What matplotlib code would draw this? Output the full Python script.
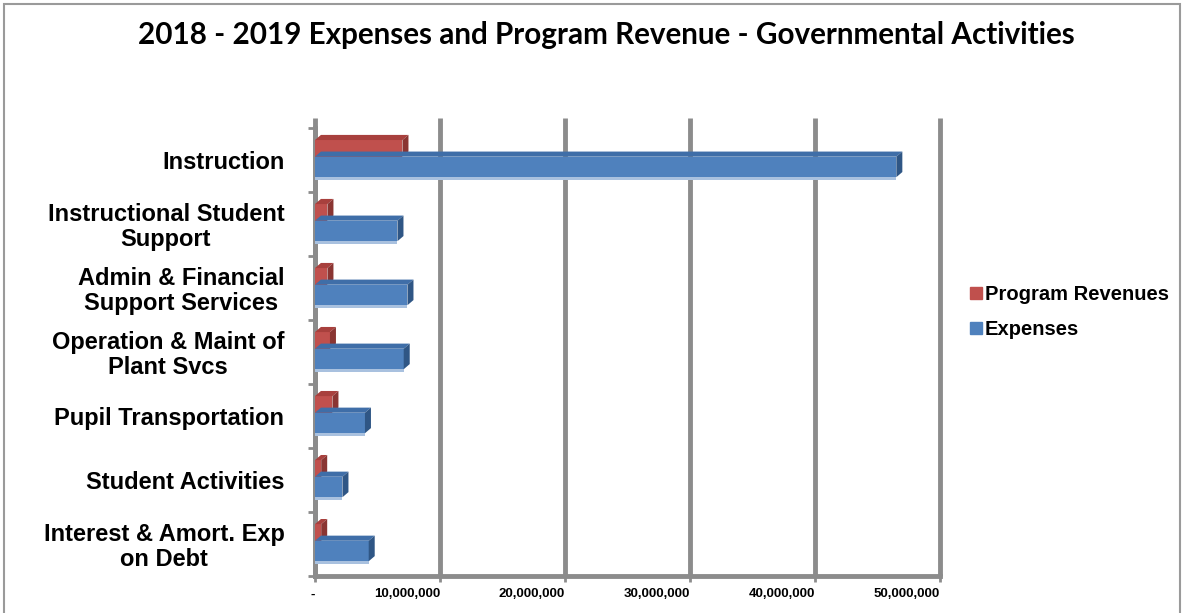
import matplotlib.pyplot as plt
from matplotlib.patches import Polygon, Rectangle
from matplotlib.lines import Line2D
import numpy as np

categorias = ["Instruction", "Instructional Student\nSupport", "Admin & Financial\nSupport Services",
              "Operation & Maint of\nPlant Svcs", "Pupil Transportation", "Student Activities",
              "Interest & Amort. Exp\non Debt"]
gastos = [46.5e6, 6.6e6, 7.4e6, 7.1e6, 4.0e6, 2.2e6, 4.3e6]
ingresos = [7.0e6, 1.0e6, 1.0e6, 1.2e6, 1.4e6, 0.5e6, 0.5e6]
xticks = [0, 10e6, 20e6, 30e6, 40e6, 50e6]
xlabels = ["-", "10,000,000", "20,000,000", "30,000,000", "40,000,000", "50,000,000"]

azul = "#4f81bd"; azul_top = "#3f6ea8"; azul_lado = "#2f5685"; azul_claro = "#a9c1df"
rojo = "#c0504d"; rojo_top = "#a8403d"; rojo_lado = "#8a3532"
gris = "#8c8c8c"

fig = plt.figure(figsize=(11.84, 6.13), dpi=100)
ax = fig.add_axes([0.266, 0.0604, 0.528, 0.731])

dx = 0.48e6   # profundidad falsa 3D
dy = 0.08

def barra3d(y, w, h, c_front, c_top, c_side, z):
    ax.barh(y, w, height=h, color=c_front, zorder=z, edgecolor="none")
    t = y + h / 2
    b = y - h / 2
    ax.add_patch(Polygon([(0, t), (w, t), (w + dx, t + dy), (dx, t + dy)], closed=True,
                         facecolor=c_top, edgecolor="none", zorder=z))
    ax.add_patch(Polygon([(w, b), (w + dx, b + dy), (w + dx, t + dy), (w, t)], closed=True,
                         facecolor=c_side, edgecolor="none", zorder=z))

n = len(categorias)
ypos = np.arange(n)[::-1]

for i in range(n):
    c = ypos[i]
    barra3d(c + 0.18, ingresos[i], 0.26, rojo, rojo_top, rojo_lado, 3 + i * 0.01)
    # borde claro debajo de la barra azul
    ax.barh(c - 0.29, gastos[i], height=0.05, color=azul_claro, zorder=3.5, edgecolor="none")
    barra3d(c - 0.11, gastos[i], 0.32, azul, azul_top, azul_lado, 4 + i * 0.01)

for xv in xticks:
    ax.plot([xv, xv], [-0.5, n - 0.5 + 0.15], color=gris, lw=3.5, zorder=1, clip_on=False,
            solid_capstyle="butt")

ax.set_xlim(0, 50e6)
ax.set_ylim(-0.5, n - 0.5)

ax.set_xticks(xticks)
ax.set_xticklabels(xlabels, fontsize=9.5, fontweight="bold", family="Liberation Sans", ha="right")
ax.set_yticks(ypos)
ax.set_yticklabels(categorias, fontsize=17, fontweight="bold", family="Liberation Sans")
for t in ax.get_yticklabels():
    t.set_multialignment("center")
    t.set_linespacing(1.1)
ax.tick_params(axis="y", which="major", length=0, pad=22)
ax.set_yticks(np.arange(n + 1) - 0.5, minor=True)
ax.tick_params(axis="y", which="minor", length=5, width=2, color=gris)
ax.tick_params(axis="x", length=4, width=2, color=gris, pad=5)

for s in ["top", "right"]:
    ax.spines[s].set_visible(False)
for s in ["left", "bottom"]:
    ax.spines[s].set_color(gris)
    ax.spines[s].set_linewidth(3.5)

fig.text(0.512, 0.943, "2018 - 2019 Expenses and Program Revenue - Governmental Activities",
         ha="center", va="center", fontsize=21.3, fontweight="bold", family="Lato")

handles = [Line2D([], [], marker="s", ls="none", color=rojo, markersize=9),
           Line2D([], [], marker="s", ls="none", color=azul, markersize=9)]
fig.legend(handles, ["Program Revenues", "Expenses"], loc="center left", bbox_to_anchor=(0.802, 0.491),
           frameon=False, prop={"family": "Liberation Sans", "weight": "bold", "size": 14.5},
           handletextpad=0.05, labelspacing=0.8, handlelength=0.8)

fig.patches.append(Rectangle((0.003, -0.01), 0.994, 1.004, transform=fig.transFigure,
                             fill=False, edgecolor="#9a9a9a", lw=1.5))

plt.savefig("out.png", dpi=100)
